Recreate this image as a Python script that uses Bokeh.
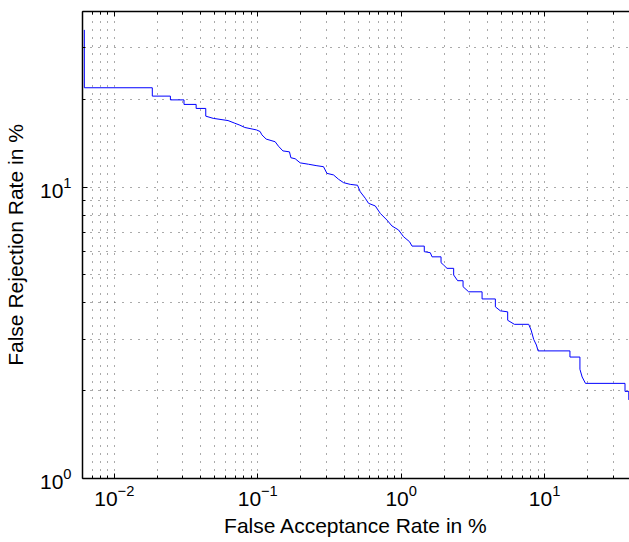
from bokeh.plotting import figure
from bokeh.models import FixedTicker, LogAxis, PrintfTickFormatter, LogTickFormatter
from bokeh.embed import file_html
from bokeh.resources import INLINE

# DET curve vertices (False Acceptance Rate %, False Rejection Rate %)
far = [0.00618, 0.00618, 0.0184, 0.0184, 0.0246, 0.0246, 0.0306, 0.0306, 0.0372, 0.0372,
       0.0434, 0.0434, 0.0489, 0.0621, 0.0692, 0.0750, 0.0813, 0.0979, 0.1039, 0.1068,
       0.1145, 0.1322, 0.1395, 0.1497, 0.1664, 0.1702, 0.1824, 0.1976, 0.2258, 0.2585,
       0.2874, 0.3035, 0.3375, 0.3658, 0.3963, 0.4414, 0.4963, 0.5184, 0.5617, 0.5923,
       0.6597, 0.7149, 0.7961, 0.8627, 0.9592, 1.039, 1.144, 1.190, 1.449, 1.449,
       1.596, 1.641, 1.896, 1.896, 1.977, 2.087, 2.322, 2.322, 2.475, 2.700,
       2.700, 2.954, 3.664, 3.664, 4.536, 4.536, 4.916, 5.527, 5.527, 6.156,
       7.746, 8.050, 8.392, 8.765, 9.007, 15.02, 15.02, 17.63, 17.63, 18.27,
       19.27, 36.35, 36.35, 38.63, 38.63]
frr = [34.6, 21.9, 21.9, 20.5, 20.5, 19.9, 19.9, 19.2, 19.2, 18.6,
       18.6, 17.5, 17.2, 16.9, 16.55, 16.3, 16.0, 15.7, 15.5, 15.1,
       14.6, 14.3, 13.8, 13.3, 13.2, 12.6, 12.5, 12.1, 11.97, 11.83,
       11.74, 11.14, 11.0, 10.63, 10.35, 10.21, 10.14, 9.63, 9.15, 8.79,
       8.61, 8.12, 7.70, 7.35, 7.12, 6.75, 6.49, 6.27, 6.27, 6.00,
       5.95, 5.76, 5.76, 5.50, 5.40, 5.26, 5.26, 4.99, 4.77, 4.77,
       4.55, 4.37, 4.37, 4.13, 4.13, 3.88, 3.76, 3.73, 3.49, 3.38,
       3.38, 3.23, 3.00, 2.87, 2.74, 2.74, 2.61, 2.61, 2.37, 2.23,
       2.12, 2.12, 1.99, 1.99, 1.86]

x_major = [0.01, 0.1, 1, 10]
x_minor = [0.002, 0.003, 0.004, 0.005, 0.006, 0.007, 0.008, 0.009,
           0.02, 0.03, 0.04, 0.05, 0.06, 0.07, 0.08, 0.09,
           0.2, 0.3, 0.4, 0.5, 0.6, 0.7, 0.8, 0.9,
           2, 3, 4, 5, 6, 7, 8, 9, 20, 30, 40, 50]
y_major = [1, 10]
y_minor = [2, 3, 4, 5, 6, 7, 8, 9, 20, 30, 40]

x_label = "False Acceptance Rate in %"
y_label = "False Rejection Rate in %"

X_START, X_END = 0.006, 39.07
Y_START, Y_END = 1, 40

FONT = "Liberation Sans"
SOLID = "40 0"

p = figure(width=629, height=542, x_axis_type="log", y_axis_type="log",
           x_range=(X_START, X_END), y_range=(Y_START, Y_END),
           output_backend="svg", toolbar_location=None,
           min_border_left=82, min_border_right=0, min_border_top=11, min_border_bottom=64)
p.outline_line_color = None
p.background_fill_color = "white"
p.border_fill_color = "white"

xt = FixedTicker(ticks=x_major, minor_ticks=x_minor)
yt = FixedTicker(ticks=y_major, minor_ticks=y_minor)

def style_axis(ax):
    ax.major_tick_in = 5
    ax.major_tick_out = 0
    ax.minor_tick_in = 3
    ax.minor_tick_out = 0
    ax.axis_line_width = 1.5
    ax.axis_line_color = "black"
    ax.axis_line_dash = SOLID
    ax.major_tick_line_color = "black"
    ax.major_tick_line_dash = SOLID
    ax.minor_tick_line_color = "black"
    ax.minor_tick_line_dash = SOLID

for ax, t in ((p.xaxis[0], xt), (p.yaxis[0], yt)):
    ax.ticker = t
    ax.formatter = LogTickFormatter()
    style_axis(ax)
    ax.major_label_text_font = FONT
    ax.major_label_text_font_size = "21px"
    ax.major_label_text_color = "black"
    ax.axis_label_text_font = FONT
    ax.axis_label_text_font_size = "21px"
    ax.axis_label_text_font_style = "normal"
    ax.axis_label_text_color = "black"

p.xaxis[0].axis_label = x_label
p.yaxis[0].axis_label = y_label
p.xaxis[0].major_label_standoff = 6
p.xaxis[0].axis_label_standoff = 5
p.yaxis[0].major_label_standoff = 11
p.yaxis[0].axis_label_standoff = 10

top = LogAxis(ticker=xt, formatter=PrintfTickFormatter(format=""),
              major_label_standoff=0, major_label_text_font_size="1px")
p.add_layout(top, "above")
style_axis(top)

for g in (p.xgrid[0], p.ygrid[0]):
    g.grid_line_color = "#555555"
    g.grid_line_dash = "1 7"
    g.grid_line_width = 1
    g.minor_grid_line_color = "#555555"
    g.minor_grid_line_dash = "1 7"
    g.minor_grid_line_width = 1

p.line(far, frr, line_color="#0000ff", line_width=1)

open("out.html", "w").write(file_html(p, INLINE))
